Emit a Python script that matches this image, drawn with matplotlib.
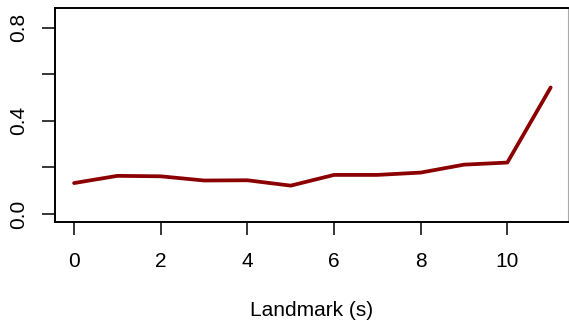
import matplotlib
matplotlib.use("Agg")
import matplotlib.pyplot as plt

landmarks = [0, 1, 2, 3, 4, 5, 6, 7, 8, 9, 10, 11]
values = [0.133, 0.164, 0.162, 0.144, 0.145, 0.122, 0.168, 0.168, 0.178, 0.212, 0.221, 0.543]
xticks = [0, 2, 4, 6, 8, 10]
yticks = [0.0, 0.2, 0.4, 0.6, 0.8]
yticklabels = ["0.0", "", "0.4", "", "0.8"]

plt.rcParams['font.family'] = ['Liberation Sans', 'DejaVu Sans']
W, H = 569, 323
fig = plt.figure(figsize=(W / 100, H / 100), dpi=100)
left, right, top, bottom = 55, 568, 8, 222
ax = fig.add_axes([left / W, 1 - bottom / H, (right - left) / W, (bottom - top) / H])

ax.plot(landmarks, values, color='#8B0000', lw=2.7, solid_capstyle='round')

ax.set_xlim(-0.44, 11.40)
ax.set_ylim(-0.034, 0.884)
ax.set_xticks(xticks)
ax.set_yticks(yticks)
ax.set_yticklabels(yticklabels, rotation=90, va='center')
for s in ax.spines.values():
    s.set_linewidth(1.4)
ax.spines['right'].set_color('#aaaaaa')
ax.spines['right'].set_linewidth(0.8)
ax.tick_params(axis='both', length=9.4, width=1.1, labelsize=15, color='black')
ax.tick_params(axis='x', pad=12)
ax.tick_params(axis='y', pad=10)
ax.set_xlabel("Landmark (s)", fontsize=15, labelpad=22)

fig.savefig("out.png", dpi=100)
